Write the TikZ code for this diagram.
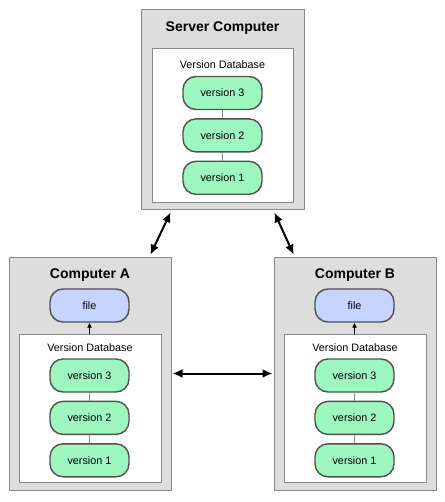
\documentclass[tikz,border=0pt]{standalone}
\usepackage{fontspec}
\setmainfont{Liberation Sans}
\usepackage{tikz}
\usetikzlibrary{arrows.meta,positioning}
\definecolor{boxgray}{HTML}{DDDDDD}
\definecolor{edgegray}{HTML}{8A8A8A}
\definecolor{vgreen}{HTML}{9EF7BE}
\definecolor{fblue}{HTML}{C5D5FF}
\definecolor{pilledge}{HTML}{505050}

\begin{document}
\begin{tikzpicture}[x=1pt,y=-1pt,font=\fontsize{10.8}{13}\selectfont,
  host/.style={draw=edgegray,line width=1pt,fill=boxgray,inner sep=0pt},
  db/.style={draw=edgegray,line width=0.8pt,fill=white,inner sep=0pt},
  ttl/.style={font=\fontsize{14}{17}\selectfont\bfseries},
  ver/.style={draw=pilledge,line width=1.4pt,rounded corners=13pt,fill=vgreen,minimum width=79pt,minimum height=33pt,inner sep=0pt},
  fil/.style={ver,fill=fblue},
  lnk/.style={draw=edgegray,line width=0.8pt},
  sync/.style={{Latex[length=10pt,width=9pt]}-{Latex[length=10pt,width=9pt]},line width=2pt}]
\useasboundingbox (0,0) rectangle (444,502);

% server
\node[host,minimum width=163pt,minimum height=200pt] (srv) at (222.5,110) {};
\node[ttl] (srvt) at (222.5,28) {Server Computer};
\node[db,minimum width=141pt,minimum height=154pt] (srvdb) at (222.5,125) {};
\node (srvl) at (222.5,65) {Version Database};
\node[ver] (s3) at (222.5,93) {version 3};
\node[ver,below=8pt of s3] (s2) {version 2};
\node[ver,below=8pt of s2] (s1) {version 1};
\draw[lnk] (s3) -- (s2); \draw[lnk] (s2) -- (s1);

% computer A
\node[host,minimum width=162pt,minimum height=233pt] (ca) at (90,373.5) {};
\node[ttl] (cat) at (90,275) {Computer A};
\node[fil] (fa) at (89.5,305.5) {file};
\node[db,minimum width=142pt,minimum height=148pt] (cadb) at (90,408) {};
\node (cal) at (90,348) {Version Database};
\node[ver] (a3) at (89.5,375.5) {version 3};
\node[ver,below=8pt of a3] (a2) {version 2};
\node[ver,below=8pt of a2] (a1) {version 1};
\draw[lnk] (a3) -- (a2); \draw[lnk] (a2) -- (a1);
\draw[-{Latex[length=5pt,width=5pt]},line width=0.8pt] (cadb.north -| fa) -- (fa.south);

% computer B
\node[host,minimum width=162pt,minimum height=233pt] (cb) at (355,373.5) {};
\node[ttl] (cbt) at (355,275) {Computer B};
\node[fil] (fb) at (354.5,305.5) {file};
\node[db,minimum width=142pt,minimum height=148pt] (cbdb) at (355,408) {};
\node (cbl) at (355,348) {Version Database};
\node[ver] (b3) at (354.5,375.5) {version 3};
\node[ver,below=8pt of b3] (b2) {version 2};
\node[ver,below=8pt of b2] (b1) {version 1};
\draw[lnk] (b3) -- (b2); \draw[lnk] (b2) -- (b1);
\draw[-{Latex[length=5pt,width=5pt]},line width=0.8pt] (cbdb.north -| fb) -- (fb.south);

% links
\draw[sync,shorten <=2pt,shorten >=2pt] ([xshift=31pt]srv.south west) -- ([xshift=-22pt]ca.north east);
\draw[sync,shorten <=2pt,shorten >=2pt] ([xshift=-31pt]srv.south east) -- ([xshift=21pt]cb.north west);
\draw[sync,shorten <=1pt,shorten >=1pt] (ca.east) -- (cb.west);
\end{tikzpicture}
\end{document}
